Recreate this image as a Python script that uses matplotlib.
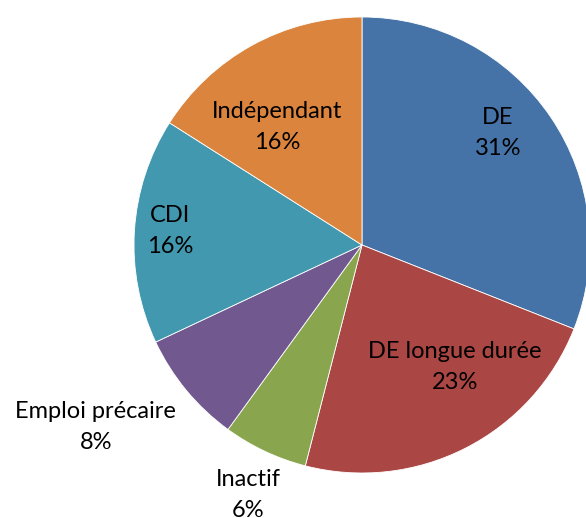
import matplotlib
matplotlib.use("Agg")
import matplotlib.pyplot as plt

categories = ["DE", "DE longue durée", "Inactif", "Emploi précaire", "CDI", "Indépendant"]
values = [31, 23, 6, 8, 16, 16]
colors = ["#4572A7", "#AA4643", "#89A54E", "#71588F", "#4198AF", "#DB843D"]
# label anchor positions (in pie-radius units)
label_pos = [(0.596, 0.491), (0.408, -0.535), (-0.50, -1.096),
             (-1.167, -0.798), (-0.842, 0.061), (-0.373, 0.518)]

W, H = 586, 518
cx, cy, R = 362, 245, 228
fig = plt.figure(figsize=(W / 100, H / 100), dpi=100)
ax = fig.add_axes([0, 0, 1, 1])
ax.pie(values, colors=colors, startangle=90, counterclock=False, radius=1,
       wedgeprops=dict(edgecolor="white", linewidth=0.6))
ax.set_xlim(-cx / R, (W - cx) / R)
ax.set_ylim(-(H - cy) / R, cy / R)
ax.set_aspect("auto")
ax.axis("off")

for cat, v, (x, y) in zip(categories, values, label_pos):
    ax.text(x, y, f"{cat}\n{v}%", ha="center", va="center", fontsize=17,
            family="Lato", linespacing=1.6, color="black")

fig.savefig("out.png", dpi=100)
